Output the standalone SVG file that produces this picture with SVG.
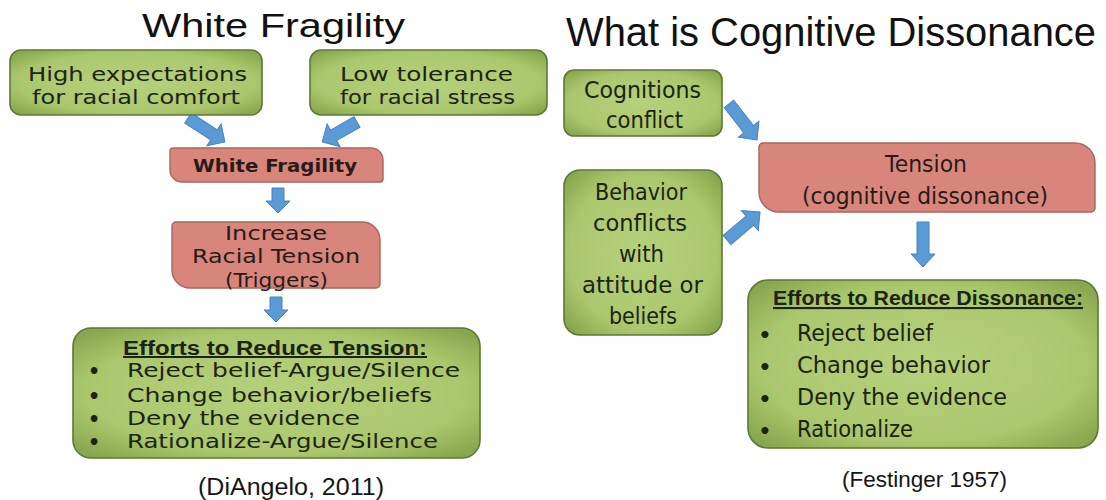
<svg xmlns="http://www.w3.org/2000/svg" width="1106" height="500" viewBox="0 0 1106 500">
<style>
.title{font-family:"Liberation Sans",Arial,sans-serif;fill:#111}
.cite{font-family:"Liberation Sans",Arial,sans-serif;fill:#151515}
.gt{font-family:"DejaVu Sans","Liberation Sans",sans-serif;fill:#1a240f}
.rt{font-family:"DejaVu Sans","Liberation Sans",sans-serif;fill:#2a1a17}
.b{font-family:"Liberation Sans",Arial,sans-serif;font-weight:bold;text-decoration:underline}
.bul{font-family:"DejaVu Sans",sans-serif;fill:#1a240f;text-anchor:middle;font-weight:bold}
.green{fill:url(#gg);stroke:#5b7a36;stroke-width:1.6}
.red{fill:#d8867c;stroke:#a9645d;stroke-width:1.4}
.arr{fill:#5b9bd5;stroke:#4682be;stroke-width:1}
</style>
<defs>
<radialGradient id="gg" cx="50%" cy="50%" r="65%">
<stop offset="0%" stop-color="#b6d17c"/>
<stop offset="72%" stop-color="#abc76e"/>
<stop offset="100%" stop-color="#89a74e"/>
</radialGradient>
</defs>
<rect width="1106" height="500" fill="#fff"/>
<text class="title" x="142" y="37" font-size="33" textLength="263" lengthAdjust="spacingAndGlyphs">White Fragility</text>
<text class="title" x="566" y="46" font-size="40" textLength="530" lengthAdjust="spacingAndGlyphs">What is Cognitive Dissonance</text>
<g id="connectors">
<polygon class="arr" transform="translate(188,118) rotate(33)" points="0,-6 31,-6 31,-13 44,0 31,13 31,6 0,6"/>
<polygon class="arr" transform="translate(357,122) rotate(150.3)" points="0,-6 27,-6 27,-13 40,0 27,13 27,6 0,6"/>
<polygon class="arr" transform="translate(278,188) rotate(90)" points="0,-6 13,-6 13,-12 25,0 13,12 13,6 0,6"/>
<polygon class="arr" transform="translate(276,297) rotate(90)" points="0,-6 13,-6 13,-12 25,0 13,12 13,6 0,6"/>
<polygon class="arr" transform="translate(729,104) rotate(52.1)" points="0,-6 32,-6 32,-13 45.6,0 32,13 32,6 0,6"/>
<polygon class="arr" transform="translate(727,240) rotate(-40.3)" points="0,-6 30,-6 30,-13 43.3,0 30,13 30,6 0,6"/>
<polygon class="arr" transform="translate(923,222) rotate(90)" points="0,-6 32,-6 32,-12 45,0 32,12 32,6 0,6"/>
</g>
<g id="high-expectations">
<rect class="green" x="10" y="50" width="252" height="65" rx="11"/>
<text class="gt" x="28" y="81" font-size="19" textLength="219" lengthAdjust="spacingAndGlyphs">High expectations</text>
<text class="gt" x="32" y="104" font-size="19" textLength="208" lengthAdjust="spacingAndGlyphs">for racial comfort</text>
</g>
<g id="low-tolerance">
<rect class="green" x="310" y="50" width="237" height="65" rx="11"/>
<text class="gt" x="340" y="81" font-size="19" textLength="173" lengthAdjust="spacingAndGlyphs">Low tolerance</text>
<text class="gt" x="340" y="104" font-size="19" textLength="175" lengthAdjust="spacingAndGlyphs">for racial stress</text>
</g>
<g id="white-fragility">
<path class="red" d="M173,148 H371 A12,12 0 0 1 383,160 V179 A3,3 0 0 1 380,182 H182 A12,12 0 0 1 170,170 V151 A3,3 0 0 1 173,148 Z"/>
<text class="rt" x="193" y="172" font-size="17" font-weight="bold" textLength="164" lengthAdjust="spacingAndGlyphs">White Fragility</text>
</g>
<g id="increase-racial-tension">
<path class="red" d="M176,222 H362 A18,18 0 0 1 380,240 V284 A4,4 0 0 1 376,288 H190 A18,18 0 0 1 172,270 V226 A4,4 0 0 1 176,222 Z"/>
<text class="rt" x="225" y="240" font-size="19" textLength="102" lengthAdjust="spacingAndGlyphs">Increase</text>
<text class="rt" x="192" y="263" font-size="19" textLength="168" lengthAdjust="spacingAndGlyphs">Racial Tension</text>
<text class="rt" x="225" y="287" font-size="19" textLength="103" lengthAdjust="spacingAndGlyphs">(Triggers)</text>
</g>
<g id="efforts-reduce-tension">
<rect class="green" x="73" y="328" width="407" height="130" rx="18"/>
<text class="gt b" x="123" y="355" font-size="20" textLength="304" lengthAdjust="spacingAndGlyphs">Efforts to Reduce Tension:</text>
<text class="bul" x="94" y="378" font-size="19">•</text>
<text class="bul" x="94" y="403" font-size="19">•</text>
<text class="bul" x="94" y="426" font-size="19">•</text>
<text class="bul" x="94" y="449" font-size="19">•</text>
<text class="gt" x="127" y="377" font-size="19" textLength="333" lengthAdjust="spacingAndGlyphs">Reject belief-Argue/Silence</text>
<text class="gt" x="127" y="402" font-size="19" textLength="305" lengthAdjust="spacingAndGlyphs">Change behavior/beliefs</text>
<text class="gt" x="127" y="425" font-size="19" textLength="233" lengthAdjust="spacingAndGlyphs">Deny the evidence</text>
<text class="gt" x="127" y="448" font-size="19" textLength="311" lengthAdjust="spacingAndGlyphs">Rationalize-Argue/Silence</text>
</g>
<text class="cite" x="198" y="495" font-size="23" textLength="186" lengthAdjust="spacingAndGlyphs">(DiAngelo, 2011)</text>
<g id="cognitions-conflict">
<rect class="green" x="564" y="70" width="158" height="66" rx="10"/>
<text class="gt" x="584" y="98" font-size="23" textLength="117" lengthAdjust="spacingAndGlyphs">Cognitions</text>
<text class="gt" x="606" y="128" font-size="23" textLength="77" lengthAdjust="spacingAndGlyphs">conflict</text>
</g>
<g id="behavior-conflicts">
<rect class="green" x="564" y="170" width="158" height="165" rx="16"/>
<text class="gt" x="595" y="200" font-size="23" textLength="92" lengthAdjust="spacingAndGlyphs">Behavior</text>
<text class="gt" x="593" y="231" font-size="23" textLength="94" lengthAdjust="spacingAndGlyphs">conflicts</text>
<text class="gt" x="619" y="262" font-size="23" textLength="45" lengthAdjust="spacingAndGlyphs">with</text>
<text class="gt" x="582" y="293" font-size="23" textLength="121" lengthAdjust="spacingAndGlyphs">attitude or</text>
<text class="gt" x="609" y="324" font-size="23" textLength="68" lengthAdjust="spacingAndGlyphs">beliefs</text>
</g>
<g id="tension">
<path class="red" d="M763,143 H1075 A20,20 0 0 1 1095,163 V208 A4,4 0 0 1 1091,212 H779 A20,20 0 0 1 759,192 V147 A4,4 0 0 1 763,143 Z"/>
<text class="rt" x="885" y="172" font-size="23" textLength="82" lengthAdjust="spacingAndGlyphs">Tension</text>
<text class="rt" x="802" y="204" font-size="23" textLength="246" lengthAdjust="spacingAndGlyphs">(cognitive dissonance)</text>
</g>
<g id="efforts-reduce-dissonance">
<rect class="green" x="748" y="280" width="350" height="168" rx="20"/>
<text class="gt b" x="773" y="305" font-size="21" textLength="310" lengthAdjust="spacingAndGlyphs">Efforts to Reduce Dissonance:</text>
<text class="bul" x="765" y="342" font-size="20">•</text>
<text class="bul" x="765" y="374" font-size="20">•</text>
<text class="bul" x="765" y="406" font-size="20">•</text>
<text class="bul" x="765" y="438" font-size="20">•</text>
<text class="gt" x="797" y="341" font-size="23" textLength="136" lengthAdjust="spacingAndGlyphs">Reject belief</text>
<text class="gt" x="797" y="373" font-size="23" textLength="193" lengthAdjust="spacingAndGlyphs">Change behavior</text>
<text class="gt" x="797" y="405" font-size="23" textLength="210" lengthAdjust="spacingAndGlyphs">Deny the evidence</text>
<text class="gt" x="797" y="437" font-size="23" textLength="116" lengthAdjust="spacingAndGlyphs">Rationalize</text>
</g>
<text class="cite" x="842" y="487" font-size="22.5" textLength="165" lengthAdjust="spacingAndGlyphs">(Festinger 1957)</text>
</svg>
